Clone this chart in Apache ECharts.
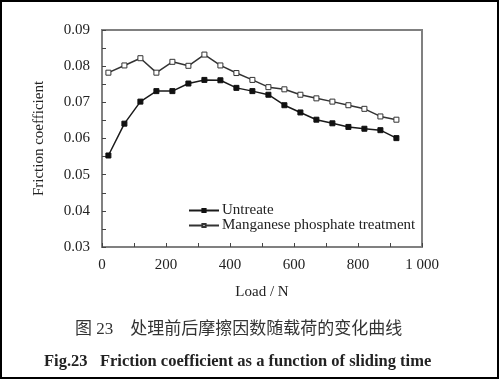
<!DOCTYPE html>
<html>
<head>
<meta charset="utf-8">
<script src="https://cdn.jsdelivr.net/npm/echarts@6/dist/echarts.min.js"></script>
<style>html,body{margin:0;padding:0;background:#fff;}#c{width:500px;height:380px;}</style>
</head>
<body>
<div id="c"></div>
<script>
const loads = [20,70,120,170,220,270,320,370,420,470,520,570,620,670,720,770,820,870,920];
const untreated = [0.0553,0.0641,0.0702,0.0731,0.0731,0.0752,0.0762,0.0761,0.0740,0.0731,0.0721,0.0692,0.0672,0.0652,0.0642,0.0632,0.0627,0.0623,0.0601];
const treated = [0.0782,0.0802,0.0822,0.0782,0.0812,0.0801,0.0832,0.0802,0.0781,0.0762,0.0742,0.0736,0.0721,0.0711,0.0702,0.0692,0.0682,0.0661,0.0652];
const seriesNames = ['Untreate','Manganese phosphate treatment'];
const xTickLabels = {0:'0',200:'200',400:'400',600:'600',800:'800',1000:'1 000'};
const yName = 'Friction coefficient';
const xName = 'Load / N';
const captionCn = '图 23\u3000处理前后摩擦因数随载荷的变化曲线';
const captionEn = 'Fig.23\u2002 Friction coefficient as a function of sliding time';

const serif = '"Liberation Serif", "DejaVu Serif", serif';
const txt = '#222';
const frame = '#808080';
const chart = echarts.init(document.getElementById('c'), null, {renderer:'canvas'});
chart.setOption({
  animation:false,
  backgroundColor:'#fff',
  grid:{left:102,right:78,top:30,bottom:133,show:true,borderColor:frame,borderWidth:2,backgroundColor:'transparent'},
  title:[
    {text:captionCn,left:70,top:316,textStyle:{fontFamily:'"Liberation Serif","Noto Sans CJK SC",serif',fontSize:17,fontWeight:'normal',color:'#333'}},
    {text:captionEn,left:39,top:348,textStyle:{fontFamily:serif,fontSize:16.5,fontWeight:'bold',color:txt}}
  ],
  legend:{
    orient:'vertical',left:183,top:198,itemWidth:30,itemHeight:4,itemGap:0,
    textStyle:{fontFamily:serif,fontSize:15,lineHeight:14,color:txt,padding:[0,0,0,-2]},
    data:seriesNames
  },
  xAxis:{
    type:'value',min:0,max:1000,interval:100,
    name:xName,nameLocation:'middle',nameGap:38,
    nameTextStyle:{fontFamily:serif,fontSize:15,color:txt},
    axisLine:{show:true,lineStyle:{color:frame,width:2}},
    axisTick:{show:true,inside:true,length:4,lineStyle:{color:'#444'}},
    axisLabel:{fontFamily:serif,fontSize:15,color:txt,margin:11,showMinLabel:true,showMaxLabel:true,
      formatter:v=> (xTickLabels[v]!==undefined? xTickLabels[v] : '')},
    splitLine:{show:false}
  },
  yAxis:{
    type:'value',min:0.03,max:0.09,interval:0.01,
    name:yName,nameLocation:'middle',nameGap:55,nameRotate:90,
    nameTextStyle:{fontFamily:serif,fontSize:15,color:txt},
    axisLine:{show:true,lineStyle:{color:frame,width:2}},
    axisTick:{show:true,inside:true,length:4,lineStyle:{color:'#444'}},
    minorTick:{show:true,splitNumber:2,length:4,lineStyle:{color:'#444'}},
    axisLabel:{fontFamily:serif,fontSize:15,color:txt,margin:12,formatter:v=>v.toFixed(2)},
    splitLine:{show:false}
  },
  series:[
    {name:seriesNames[0],type:'line',data:loads.map((x,i)=>[x,untreated[i]]),
      symbol:'rect',symbolSize:5,lineStyle:{color:'#1a1a1a',width:1.5},
      itemStyle:{color:'#111',borderColor:'#111',borderWidth:1}},
    {name:seriesNames[1],type:'line',data:loads.map((x,i)=>[x,treated[i]]),
      symbol:'rect',symbolSize:5,lineStyle:{color:'#333',width:1.5},
      itemStyle:{color:'#fff',borderColor:'#333',borderWidth:1}}
  ],
  graphic:[{type:'rect',shape:{x:1,y:1,width:497,height:377},style:{fill:'none',stroke:'#000',lineWidth:2},silent:true}]
});
</script>
</body>
</html>
